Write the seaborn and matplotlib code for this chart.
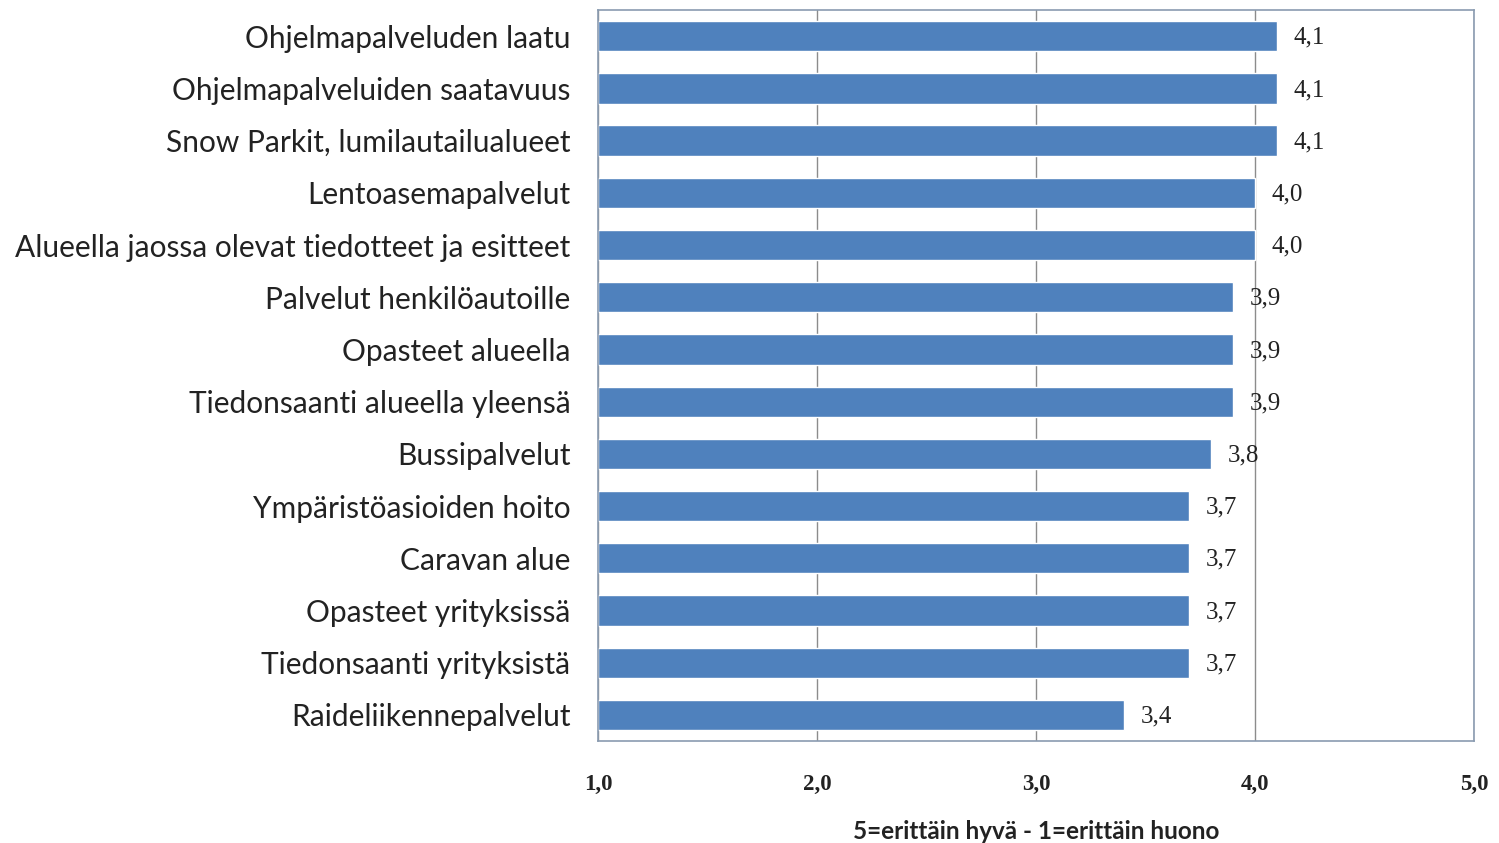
import seaborn as sns
import matplotlib.pyplot as plt
import pandas

categories = [
    "Ohjelmapalveluden laatu",
    "Ohjelmapalveluiden saatavuus",
    "Snow Parkit, lumilautailualueet",
    "Lentoasemapalvelut",
    "Alueella jaossa olevat tiedotteet ja esitteet",
    "Palvelut henkilöautoille",
    "Opasteet alueella",
    "Tiedonsaanti alueella yleensä",
    "Bussipalvelut",
    "Ympäristöasioiden hoito",
    "Caravan alue",
    "Opasteet yrityksissä",
    "Tiedonsaanti yrityksistä",
    "Raideliikennepalvelut",
]
scores = [4.1, 4.1, 4.1, 4.0, 4.0, 3.9, 3.9, 3.9, 3.8, 3.7, 3.7, 3.7, 3.7, 3.4]
ticks = [1.0, 2.0, 3.0, 4.0, 5.0]

df = pandas.DataFrame({"kohde": categories, "arvo": scores})

sns.set_style("white")
plt.rcParams['font.family'] = ['Lato', 'DejaVu Sans']

fig = plt.figure(figsize=(14.99, 8.43), dpi=100)
ax = fig.add_axes([0.399, 0.121, 0.5843, 0.867])

sns.barplot(data=df, x="arvo", y="kohde", color="#4F81BD", saturation=1,
            width=0.58, ax=ax)
# bars start from 1.0 like in the original (axis minimum)
for p in ax.patches:
    w = p.get_width()
    p.set_x(1.0)
    p.set_width(w - 1.0)

for i, v in enumerate(scores):
    ax.annotate(("%.1f" % v).replace(".", ","), xy=(v, i + 0.03), xytext=(12, 0),
                textcoords="offset points", va="center", ha="left",
                fontsize=18, color="#222222", family=['Liberation Serif'])

ax.set_xlim(1.0, 5.0)
ax.set_ylim(13.5, -0.5)
ax.set_xticks(ticks)
ax.set_xticklabels([("%.1f" % t).replace(".", ",") for t in ticks],
                   fontsize=16.5, family=['Liberation Serif'], fontweight='bold',
                   color="#222222")
ax.tick_params(axis='x', length=0, pad=24)
ax.tick_params(axis='y', length=0, pad=20, labelsize=21.5, labelcolor="#222222")
ax.xaxis.grid(True, color="#8c8c8c", linewidth=1)
ax.set_axisbelow(True)
for s in ax.spines.values():
    s.set_color("#8a9bb0")
    s.set_linewidth(1.2)
ax.set_ylabel("")
ax.set_xlabel("5=erittäin hyvä - 1=erittäin huono", fontsize=17.5,
              fontweight='bold', color="#222222", labelpad=18)

fig.savefig("out.png", dpi=100)
